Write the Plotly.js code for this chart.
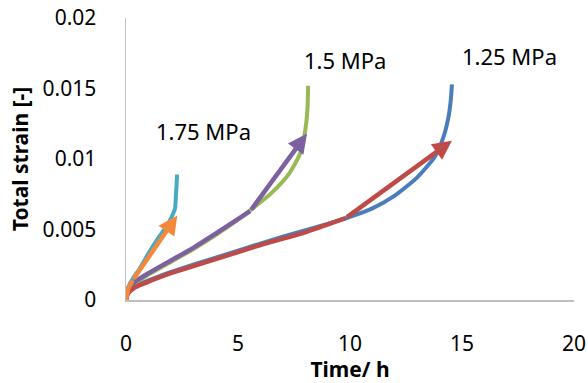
<!DOCTYPE html>
<html><head><meta charset="utf-8">
<script src="https://cdn.plot.ly/plotly-3.0.1.min.js"></script>
<style>html,body{margin:0;padding:0;background:#fff}#c{width:588px;height:383px}</style>
</head><body><div id="c"></div>
<script>
// 1.25 MPa creep curve
const t125 = [0, 0.1, 0.3, 0.7, 1.5, 3, 5, 7, 9, 10, 11, 12, 13, 13.8, 14.2, 14.4, 14.5, 14.55];
const e125 = [0, 0.0006, 0.0009, 0.0012, 0.0017, 0.0025, 0.0035, 0.0045, 0.0054, 0.0059, 0.0065, 0.0074, 0.0087, 0.0102, 0.0117, 0.0130, 0.0142, 0.0153];
// 1.5 MPa creep curve
const t150 = [0, 0.1, 0.4, 1, 2, 3, 4, 5, 5.5, 6.5, 7.3, 7.8, 8.0, 8.1, 8.13];
const e150 = [0, 0.0007, 0.0012, 0.0018, 0.0027, 0.0036, 0.0046, 0.0057, 0.0063, 0.0076, 0.0090, 0.0105, 0.0120, 0.0135, 0.0152];
// 1.75 MPa creep curve
const t175 = [0, 0.1, 0.3, 0.6, 1.0, 1.4, 1.8, 2.04, 2.19, 2.23, 2.26, 2.28];
const e175 = [0, 0.0009, 0.0015, 0.0022, 0.0033, 0.0043, 0.0052, 0.0059, 0.0065, 0.0075, 0.0082, 0.0089];
// trend arrows (polyline, last point = arrow tip)
const arr125x = [0, 0.1, 0.4, 1, 2, 4, 6, 8, 9.8, 14.55];
const arr125y = [0, 0.0005, 0.0009, 0.0013, 0.0019, 0.0029, 0.0039, 0.0048, 0.0058, 0.0113];
const arr150x = [0, 0.1, 0.4, 1, 2, 3, 4, 5.54, 8.08];
const arr150y = [0, 0.0008, 0.0013, 0.0019, 0.0028, 0.0037, 0.0047, 0.0063, 0.0118];
const arr175x = [0, 0.1, 0.3, 2.29];
const arr175y = [0, 0.0008, 0.0014, 0.0060];
// labels
const labelText = ["1.75 MPa", "1.5 MPa", "1.25 MPa"];
const labelX = [3.48, 9.78, 17.14];
const labelY = [0.0120, 0.0170, 0.0173];
const xTicks = [0, 5, 10, 15, 20];
const yTicks = [0, 0.005, 0.01, 0.015, 0.02];
const yTickText = ["0", "0.005", "0.01", "0.015", "0.02"];

const F = "Noto Sans, Open Sans, sans-serif";
function curve(x, y, c) { return {x, y, mode: 'lines', line: {color: c, width: 4, shape: 'spline', smoothing: 0.6}, hoverinfo: 'skip'}; }
function arrowLine(x, y, c) {
  const n = x.length - 1;
  return {x: x.slice(0, n), y: y.slice(0, n), mode: 'lines', line: {color: c, width: 4.5, shape: 'spline', smoothing: 0.4}, hoverinfo: 'skip'};
}
function arrowHead(x, y, c) {
  const n = x.length - 1;
  return {x: x[n], y: y[n], ax: x[n-1], ay: y[n-1], xref: 'x', yref: 'y', axref: 'x', ayref: 'y',
    text: '', showarrow: true, arrowhead: 2, arrowsize: 0.85, arrowwidth: 4.5, arrowcolor: c};
}
const cB = '#4A7EBB', cR = '#BE4B48', cG = '#98B954', cP = '#7D60A0', cC = '#46AAC5', cO = '#F38A3B';
const data = [
  curve(t125, e125, cB), curve(t150, e150, cG), curve(t175, e175, cC),
  arrowLine(arr125x, arr125y, cR), arrowLine(arr150x, arr150y, cP), arrowLine(arr175x, arr175y, cO)
];
const ann = [arrowHead(arr125x, arr125y, cR), arrowHead(arr150x, arr150y, cP), arrowHead(arr175x, arr175y, cO)];
labelText.forEach((t, i) => ann.push({x: labelX[i], y: labelY[i], xref: 'x', yref: 'y', text: t, showarrow: false,
  font: {family: F, size: 22, color: '#000'}}));
const layout = {
  width: 588, height: 383, margin: {l: 126, r: 14, t: 18, b: 83},
  paper_bgcolor: '#fff', plot_bgcolor: '#fff', showlegend: false,
  font: {family: F, size: 21, color: '#000'},
  xaxis: {range: [0, 20], tickvals: xTicks, showgrid: false, zeroline: false, showline: true, linecolor: '#BFBFBF', linewidth: 1.5,
    ticks: '', ticklabelstandoff: 24, tickfont: {family: F, size: 21, color: '#000'},
    title: {text: '<b>Time/ h</b>', font: {family: F, size: 21}, standoff: 9}},
  yaxis: {range: [0, 0.02], tickvals: yTicks, ticktext: yTickText, showgrid: false, zeroline: false, showline: true, linecolor: '#BFBFBF', linewidth: 1.5,
    ticks: '', ticklabelstandoff: 24, tickfont: {family: F, size: 21, color: '#000'},
    title: {text: '<b>Total strain [-]</b>', font: {family: F, size: 21}, standoff: 8}},
  annotations: ann
};
Plotly.newPlot('c', data, layout, {staticPlot: true, displayModeBar: false});
</script></body></html>
